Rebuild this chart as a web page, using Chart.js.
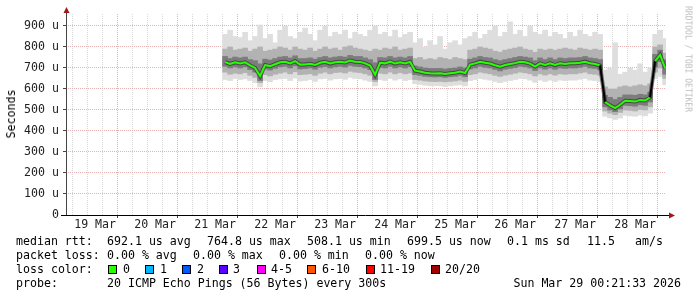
<!DOCTYPE html>
<html><head><meta charset="utf-8">
<script src="https://cdn.jsdelivr.net/npm/chart.js@4/dist/chart.umd.min.js"></script>
<style>
html,body{margin:0;padding:0;background:#fff;}
#wrap{position:relative;width:697px;height:297px;overflow:hidden;background:#fff;}
#c{position:absolute;left:0;top:0;}
.t{position:absolute;font-family:"DejaVu Sans Mono",monospace;font-size:11.6px;line-height:14px;color:#000;white-space:pre;}
.box{position:absolute;top:265px;width:7px;height:7px;border:1px solid #000;}
.rot{position:absolute;font-family:"DejaVu Sans Mono",monospace;white-space:pre;}
</style></head><body>
<div id="wrap">
<canvas id="c" width="697" height="297"></canvas>
<div class="rot" style="left:10.5px;top:113.5px;font-size:11.6px;color:#000;transform:translate(-50%,-50%) rotate(-90deg);">Seconds</div>
<div class="rot" style="left:687.5px;top:59px;font-size:8px;color:#bdbdbd;transform:translate(-50%,-50%) rotate(90deg);">RRDTOOL / TOBI OETIKER</div>

<div class="t" style="left:16px;top:234px;">median rtt:</div>
<div class="t" style="left:107px;top:234px;">692.1 us avg</div>
<div class="t" style="left:207px;top:234px;">764.8 us max</div>
<div class="t" style="left:307px;top:234px;">508.1 us min</div>
<div class="t" style="left:407px;top:234px;">699.5 us now</div>
<div class="t" style="left:507px;top:234px;">0.1 ms sd</div>
<div class="t" style="left:587px;top:234px;">11.5</div>
<div class="t" style="left:635px;top:234px;">am/s</div>

<div class="t" style="left:16px;top:248px;">packet loss:</div>
<div class="t" style="left:107px;top:248px;">0.00 % avg</div>
<div class="t" style="left:193px;top:248px;">0.00 % max</div>
<div class="t" style="left:279px;top:248px;">0.00 % min</div>
<div class="t" style="left:365px;top:248px;">0.00 % now</div>

<div class="t" style="left:16px;top:262px;">loss color:</div>
<div class="box" style="left:108px;background:#26ff00;"></div><div class="t" style="left:123px;top:262px;">0</div>
<div class="box" style="left:145px;background:#00b8ff;"></div><div class="t" style="left:160px;top:262px;">1</div>
<div class="box" style="left:182px;background:#0059ff;"></div><div class="t" style="left:197px;top:262px;">2</div>
<div class="box" style="left:219px;background:#5e00ff;"></div><div class="t" style="left:233px;top:262px;">3</div>
<div class="box" style="left:257px;background:#ff00ff;"></div><div class="t" style="left:271px;top:262px;">4-5</div>
<div class="box" style="left:307px;background:#ff5500;"></div><div class="t" style="left:322px;top:262px;">6-10</div>
<div class="box" style="left:366px;background:#ff0000;"></div><div class="t" style="left:380px;top:262px;">11-19</div>
<div class="box" style="left:431px;background:#a10000;"></div><div class="t" style="left:445px;top:262px;">20/20</div>

<div class="t" style="left:16px;top:276px;">probe:</div>
<div class="t" style="left:107px;top:276px;">20 ICMP Echo Pings (56 Bytes) every 300s</div>
<div class="t" style="right:16px;top:276px;">Sun Mar 29 00:21:33 2026</div>
</div>
<script>
// hours since 19 Mar 00:00
const hours = [64,66,68,70,72,74,76,78,80,82,84,86,88,90,92,94,96,98,100,102,104,106,108,110,112,114,116,118,120,122,124,126,128,130,132,134,136,138,140,142,144,146,148,150,152,154,156,158,160,162,164,166,168,170,172,174,176,178,180,182,184,186,188,190,192,194,196,198,200,202,204,206,208,210,212,214,216,218,220,222,224,226,228,230,232,234,236,238,240];
// values in microseconds
const median = [728,719,727,722,727,712,700,662,714,709,718,727,730,722,733,716,717,720,714,725,729,721,727,730,726,735,730,729,722,712,668,725,722,730,721,727,722,729,
 687,683,677,675,674,675,671,675,677,683,676,
 716,722,730,725,721,713,706,714,719,723,730,727,721,707,722,714,722,714,722,719,722,722,725,730,722,719,712,
 538,522,509,525,544,543,540,548,545,560,
 733,762,700];
const p75 = [755,745,752,748,752,740,735,720,742,738,745,752,755,748,758,745,745,748,742,750,755,748,752,755,752,760,755,755,748,740,725,750,748,755,748,752,748,755,
 710,705,700,698,698,698,695,698,700,705,700,
 742,748,755,750,748,740,735,740,745,750,755,752,748,735,748,740,748,740,748,745,748,748,750,755,748,745,740,
 570,560,550,560,572,572,570,575,572,585,
 765,785,740];
const p25 = [708,700,705,700,705,692,680,640,695,690,698,705,708,700,710,695,697,700,694,703,707,700,705,708,704,712,708,706,700,692,645,703,700,708,700,705,700,706,
 668,665,660,658,657,658,655,658,660,665,658,
 695,700,708,703,700,693,686,694,698,702,708,705,700,688,700,694,700,694,700,698,700,700,703,708,700,698,692,
 515,500,492,505,522,520,518,525,522,538,
 705,730,670];
const p90 = [790,800,785,790,795,780,790,800,780,785,790,800,795,785,800,790,785,795,780,790,800,790,795,785,800,805,795,790,785,780,790,785,795,790,800,785,790,795,
 745,750,740,745,740,750,745,740,750,745,740,
 785,790,800,795,790,780,775,785,790,795,800,790,785,775,790,785,790,785,790,795,790,785,795,790,785,790,785,
 610,600,600,610,615,610,615,620,615,625,
 800,810,770];
const p10 = [680,670,675,672,678,665,655,630,668,662,670,675,680,672,682,668,670,672,665,675,680,672,678,680,676,684,680,678,672,665,635,675,672,680,672,678,672,676,
 645,642,638,636,635,636,634,636,638,642,636,
 668,672,680,676,672,665,660,666,670,675,680,677,672,662,672,666,672,666,672,670,672,672,676,680,672,670,665,
 495,485,478,488,500,498,495,502,500,515,
 680,700,650];
const minV = [645,640,650,645,648,640,630,610,640,635,645,648,650,640,652,638,640,645,636,648,650,642,648,650,646,655,650,648,642,636,615,645,640,650,642,648,640,645,
 625,622,618,615,616,615,612,615,618,620,615,
 640,645,650,646,642,636,630,636,640,645,650,648,642,632,642,636,642,636,642,640,642,642,646,650,642,640,636,
 470,462,455,462,475,472,470,476,472,485,
 650,660,620];
const maxV = [860,880,850,845,870,830,850,905,840,860,820,880,900,850,840,870,890,860,830,880,900,850,870,860,880,840,870,860,850,880,900,860,870,850,880,845,860,870,
 820,840,800,830,810,850,790,820,830,810,840,
 850,870,840,860,880,900,850,870,920,860,880,850,900,870,860,880,850,870,860,840,870,850,880,860,850,870,860,
 690,700,820,670,680,700,690,720,680,700,
 860,880,840];
const dayLabels = ['19 Mar','20 Mar','21 Mar','22 Mar','23 Mar','24 Mar','25 Mar','26 Mar','27 Mar','28 Mar'];
const yTickValues = [0,50,100,150,200,250,300,350,400,450,500,550,600,650,700,750,800,850,900,950];

const FONT = {family:"'DejaVu Sans Mono', monospace", size:11.6};
const pts = arr => hours.map((h,i)=>({x:h, y:arr[i]}));
const band = (lo,hi) => hours.map((h,i)=>({x:h, y:[lo[i], hi[i]]}));
const barOpts = {grouped:false, barPercentage:1, categoryPercentage:1, borderWidth:0};

const axesPlugin = {
  id:'axes',
  afterDraw(chart){
    const c = chart.ctx, a = chart.chartArea;
    c.save();
    c.strokeStyle = '#444'; c.lineWidth = 1;
    c.beginPath(); c.moveTo(a.left+0.5, a.bottom); c.lineTo(a.left+0.5, 9); c.stroke();
    c.strokeStyle = '#000';
    c.beginPath(); c.moveTo(61, a.bottom+0.5); c.lineTo(670, a.bottom+0.5); c.stroke();
    c.fillStyle = '#9b1b1b';
    c.beginPath(); c.moveTo(a.left+0.5-3, 13); c.lineTo(a.left+0.5+3, 13); c.lineTo(a.left+0.5, 7); c.closePath(); c.fill();
    c.beginPath(); c.moveTo(669, a.bottom+0.5-3); c.lineTo(669, a.bottom+0.5+3); c.lineTo(675, a.bottom+0.5); c.closePath(); c.fill();
    c.restore();
  }
};

new Chart(document.getElementById('c'), {
  type:'bar',
  data:{datasets:[
    {type:'line', data:pts(median), borderColor:'#26ff00', borderWidth:2, pointRadius:0, tension:0, order:0,
      segment:{borderColor: s => Math.abs(s.p1.parsed.y - s.p0.parsed.y) > 100 ? '#000' : '#26ff00'}},
    {type:'line', data:pts(median), borderColor:'rgba(40,40,40,0.6)', borderWidth:4, pointRadius:0, tension:0, order:1},
    Object.assign({data:band(p25,p75), backgroundColor:'#7c7c7c', order:2}, barOpts),
    Object.assign({data:band(p10,p90), backgroundColor:'#b2b2b2', order:3}, barOpts),
    Object.assign({data:band(minV,maxV), backgroundColor:'#dedede', order:4}, barOpts)
  ]},
  options:{
    responsive:false, devicePixelRatio:1, animation:false, events:[],
    plugins:{legend:{display:false}, tooltip:{enabled:false}},
    layout:{padding:{left:0, right:31, top:14, bottom:0}},
    scales:{
      x:{type:'linear', min:0.36, max:240.36, offset:false, z:1,
        afterFit: s => { s.height = 82; },
        afterBuildTicks: s => { const t=[]; for(let v=6; v<=240; v+=6) t.push({value:v}); s.ticks = t; },
        grid:{color: c => (c.tick && c.tick.value % 24 === 0) ? '#e4b2b2' : '#d8d8d8', lineWidth:1, drawTicks:true, tickLength:3,
              tickColor: c => (c.tick && c.tick.value % 24 === 0) ? '#444' : 'rgba(0,0,0,0)'},
        border:{display:false, dash:[1,1]},
        ticks:{autoSkip:false, maxRotation:0, minRotation:0, padding:0, color:'#222', font:FONT,
          callback: v => ((v - 12) % 24 === 0) ? dayLabels[(v - 12) / 24] : ''}
      },
      y:{type:'linear', min:0, max:957, z:1,
        afterFit: s => { s.width = 66; },
        afterBuildTicks: s => { s.ticks = yTickValues.map(v => ({value:v})); },
        grid:{color: c => (c.tick && c.tick.value === 0) ? 'rgba(0,0,0,0)' : (c.tick && c.tick.value % 100 === 0 ? '#e4b2b2' : '#d8d8d8'),
              lineWidth:1, drawTicks:true, tickLength:3,
              tickColor: c => (c.tick && c.tick.value % 100 === 0) ? '#444' : 'rgba(0,0,0,0)'},
        border:{display:false, dash:[1,1]},
        ticks:{padding:4, color:'#222', font:FONT,
          callback: v => (v % 100 === 0) ? (v === 0 ? '0' : v + ' u') : ''}
      }
    }
  },
  plugins:[axesPlugin]
});
</script>
</body></html>
